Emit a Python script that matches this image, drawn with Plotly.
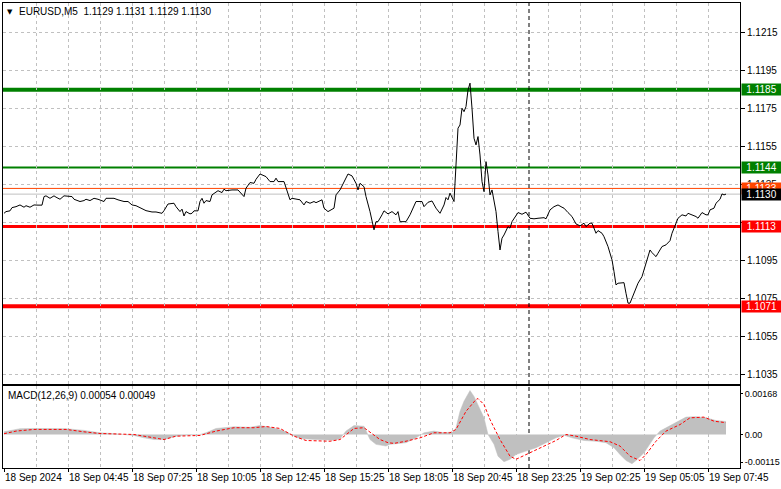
import plotly.graph_objects as go

# ---------------- data ----------------
symbol_title = "EURUSD,M5"
ohlc_last = ["1.1129", "1.1131", "1.1129", "1.1130"]

price_bar = [0, 1, 3, 4, 6, 8, 10, 11, 13, 15, 17, 19, 20, 21, 23, 25, 26, 28, 30, 32, 34, 35, 38, 40, 41, 43, 45, 47, 50, 51,
             55, 57, 60, 62, 64, 66, 69, 71, 74, 76, 79, 80, 82, 85, 86, 88, 89, 90, 91, 93, 94, 95, 97, 98, 99, 100, 101, 103, 104, 106,
             107, 109, 110, 111, 114, 117, 120, 121, 123, 125, 126, 128, 130, 131, 133, 135, 136, 137, 140, 141, 143, 144, 146, 148, 150, 151, 153, 155, 156, 159,
             160, 162, 165, 166, 168, 170, 172, 174, 176, 177, 178, 180, 181, 183, 185, 186, 187, 189, 190, 192, 194, 196, 197, 198, 200, 201, 203, 205, 206, 209,
             210, 212, 214, 216, 218, 220, 221, 222, 223, 225, 226, 227, 228, 229, 230, 231, 232, 233, 234, 235, 236, 237, 238, 239, 240, 241, 242, 243, 244, 245,
             246, 247, 248, 249, 250, 252, 253, 254, 256, 257, 259, 261, 263, 265, 267, 270, 271, 273, 275, 277, 279, 280, 282, 284, 286, 288, 290, 291, 293, 294,
             296, 297, 299, 300, 302, 304, 305, 306, 307, 310, 311, 312, 313, 314, 316, 317, 319, 321, 322, 323, 324, 326, 327, 329, 331, 333, 334, 336, 337, 339,
             341, 342, 344, 346, 347, 349, 351, 352, 353, 355, 356, 358, 359, 360, 361]
price_close = [1.11199, 1.11208, 1.11212, 1.11229, 1.11234, 1.11243, 1.11231, 1.11239, 1.11231, 1.11243, 1.11242, 1.11242, 1.11287, 1.11291, 1.11278, 1.11291, 1.11284, 1.11273, 1.11291, 1.11287, 1.11287, 1.11273, 1.11261, 1.11266, 1.11273, 1.11266, 1.11278, 1.11273, 1.11261, 1.11278,
               1.11278, 1.11270, 1.11261, 1.11261, 1.11243, 1.11239, 1.11221, 1.11213, 1.11206, 1.11206, 1.11199, 1.11213, 1.11248, 1.11252, 1.11234, 1.11208, 1.11221, 1.11185, 1.11208, 1.11196, 1.11199, 1.11212, 1.11212, 1.11261, 1.11278, 1.11252, 1.11266, 1.11261, 1.11296, 1.11313,
               1.11318, 1.11308, 1.11326, 1.11318, 1.11322, 1.11322, 1.11287, 1.11331, 1.11361, 1.11357, 1.11378, 1.11406, 1.11396, 1.11392, 1.11366, 1.11366, 1.11384, 1.11366, 1.11366, 1.11331, 1.11270, 1.11278, 1.11273, 1.11270, 1.11243, 1.11261, 1.11252, 1.11261, 1.11255, 1.11270,
               1.11226, 1.11208, 1.11226, 1.11296, 1.11322, 1.11366, 1.11406, 1.11396, 1.11357, 1.11322, 1.11357, 1.11339, 1.11287, 1.11208, 1.11112, 1.11155, 1.11155, 1.11191, 1.11212, 1.11196, 1.11208, 1.11191, 1.11208, 1.11155, 1.11155, 1.11155, 1.11191, 1.11243, 1.11261, 1.11261,
               1.11234, 1.11257, 1.11264, 1.11226, 1.11199, 1.11243, 1.11282, 1.11270, 1.11305, 1.11261, 1.11454, 1.11647, 1.11664, 1.11752, 1.11734, 1.11761, 1.11848, 1.11884, 1.11752, 1.11594, 1.11559, 1.11603, 1.11506, 1.11366, 1.11313, 1.11471, 1.11401, 1.11296, 1.11322, 1.11252,
               1.11208, 1.11103, 1.11006, 1.11068, 1.11085, 1.11129, 1.11121, 1.11155, 1.11191, 1.11203, 1.11194, 1.11205, 1.11173, 1.11170, 1.11173, 1.11176, 1.11170, 1.11217, 1.11234, 1.11243, 1.11231, 1.11226, 1.11203, 1.11182, 1.11143, 1.11133, 1.11147, 1.11129, 1.11147, 1.11147,
               1.11094, 1.11108, 1.11094, 1.11076, 1.11024, 1.10954, 1.10892, 1.10822, 1.10831, 1.10834, 1.10778, 1.10726, 1.10726, 1.10752, 1.10796, 1.10831, 1.10866, 1.10936, 1.10971, 1.11006, 1.10992, 1.10971, 1.10989, 1.11024, 1.11033, 1.11055, 1.11094, 1.11147, 1.11173, 1.11191,
               1.11185, 1.11199, 1.11191, 1.11182, 1.11173, 1.11203, 1.11191, 1.11191, 1.11217, 1.11226, 1.11252, 1.11273, 1.11301, 1.11296, 1.11300]

macd_bar = [0, 3, 8, 15, 23, 31, 40, 48, 56, 65, 70, 75, 80, 83, 86, 91, 98, 101, 106, 115, 123, 128, 131, 136, 141, 145, 148, 156, 165, 168,
            171, 175, 180, 183, 186, 191, 193, 201, 206, 210, 215, 220, 225, 226, 228, 230, 233, 235, 237, 240, 242, 245, 247, 250, 253, 256, 261, 266, 271, 276,
            280, 284, 290, 296, 301, 305, 308, 311, 314, 316, 320, 325, 328, 331, 336, 341, 346, 351, 356, 361]
macd_hist = [0.00011, 0.00017, 0.00024, 0.00025, 0.00025, 0.00024, 0.00017, 0.00007, 0.00003, -0.00004, -0.00014, -0.00021, -0.00021, -0.00014, -0.00007, -0.00003, 0.0, 0.00007, 0.00025, 0.00032, 0.00030, 0.00037, 0.00033, 0.00025, 0.00011, -0.00007, -0.00017, -0.00021, -0.00024, -0.00018,
             0.00014, 0.00037, 0.00034, -0.00021, -0.00041, -0.00048, -0.00041, -0.00034, -0.00014, 0.00007, 0.00014, 0.00007, 0.00011, 0.00028, 0.00096, 0.00138, 0.00182, 0.00158, 0.00124, 0.00069, 0.0, -0.00041, -0.00090, -0.00113, -0.00103, -0.00083, -0.00069, -0.00055, -0.00034, -0.00014,
             -0.00003, -0.00014, -0.00025, -0.00028, -0.00034, -0.00055, -0.00083, -0.00108, -0.00121, -0.00108, -0.00076, -0.00014, 0.00014, 0.00028, 0.00048, 0.00072, 0.00074, 0.00069, 0.00058, 0.00054]

signal_bar = [0, 6, 15, 31, 40, 48, 65, 73, 80, 86, 98, 106, 115, 125, 131, 138, 145, 151, 163, 168, 175, 180, 183, 188, 192, 195, 201, 208, 215, 223,
              226, 231, 236, 237, 240, 243, 248, 253, 256, 261, 268, 276, 281, 286, 293, 303, 308, 313, 318, 321, 326, 331, 338, 343, 350, 355, 361]
signal_val = [0.00003, 0.00014, 0.00021, 0.00021, 0.00011, 0.00004, 0.0, -0.00011, -0.00021, -0.00007, -0.00004, 0.00014, 0.00028, 0.00028, 0.00033, 0.00025, -0.00007, -0.00025, -0.00028, -0.00021, 0.00025, 0.00028, 0.00011, -0.00021, -0.00034, -0.00037, -0.00028, -0.00014, 0.00007, 0.00007,
              0.00021, 0.00096, 0.00145, 0.00149, 0.00124, 0.00062, -0.00021, -0.00090, -0.00103, -0.00083, -0.00055, -0.00025, 0.0, -0.00007, -0.00021, -0.00030, -0.00048, -0.00090, -0.00108, -0.00083, -0.00028, 0.00014, 0.00041, 0.00069, 0.00072, 0.00055, 0.00049]
macd_title = "MACD(12,26,9) 0.00054 0.00049"

# horizontal levels
level_price = [1.1185, 1.1144, 1.1133, 1.1113, 1.1071]
level_label = ["1.1185", "1.1144", "1.1133", "1.1113", "1.1071"]
level_color = ["#008000", "#008000", "#FF4500", "#FF0000", "#FF0000"]
level_width = [4, 2, 1, 3, 4]
bid_price = 1.1130
bid_label = "1.1130"

day_separator_bar = 262.5

x_label_bar = [0, 32, 64, 96, 128, 160, 192, 224, 256, 288, 320, 352]
x_label_text = ["18 Sep 2024", "18 Sep 04:45", "18 Sep 07:25", "18 Sep 10:05", "18 Sep 12:45", "18 Sep 15:25",
                "18 Sep 18:05", "18 Sep 20:45", "18 Sep 23:25", "19 Sep 02:25", "19 Sep 05:05", "19 Sep 07:45"]
grid_bar = [16, 32, 48, 64, 80, 96, 112, 128, 144, 160, 176, 192, 208, 224, 240, 256, 272, 288, 304, 320, 336, 352, 368]

price_ticks = [1.1035, 1.1055, 1.1075, 1.1095, 1.1115, 1.1135, 1.1155, 1.1175, 1.1195, 1.1215]
# 1.1115 is hidden behind the 1.1113 level tag in the original
price_tick_text = ["1.1035", "1.1055", "1.1075", "1.1095", "", "1.1135", "1.1155", "1.1175", "1.1195", "1.1215"]
macd_ticks = [0.00168, 0.0, -0.00115]
macd_tick_text = ["0.00168", "0.00", "-0.00115"]

# ---------------- figure ----------------
FONT = "Liberation Sans, Arial, sans-serif"
FS = 10
GRID = "#C0C0C0"
DASH = "3px,3px"

fig = go.Figure()

fig.add_trace(go.Scatter(x=price_bar, y=price_close, mode="lines",
                         line=dict(color="black", width=1), xaxis="x", yaxis="y", hoverinfo="skip"))
fig.add_trace(go.Scatter(x=macd_bar, y=macd_hist, mode="lines", fill="tozeroy",
                         fillcolor="#C0C0C0", line=dict(color="#C0C0C0", width=0.5),
                         xaxis="x2", yaxis="y2", hoverinfo="skip"))
fig.add_trace(go.Scatter(x=signal_bar, y=signal_val, mode="lines",
                         line=dict(color="#FF0000", width=1, dash="3px,2px"),
                         xaxis="x2", yaxis="y2", hoverinfo="skip"))

shapes = []
shapes.append(dict(type="line", xref="x domain", x0=0, x1=1, yref="y", y0=bid_price, y1=bid_price,
                   line=dict(color="#C0C0C0", width=1), layer="below"))
for p, c, w in zip(level_price, level_color, level_width):
    shapes.append(dict(type="line", xref="x domain", x0=0, x1=1, yref="y", y0=p, y1=p,
                       line=dict(color=c, width=w), layer="below"))
shapes.append(dict(type="line", xref="x", x0=day_separator_bar, x1=day_separator_bar, yref="paper", y0=0, y1=1,
                   line=dict(color="black", width=1, dash="4px,3px"), layer="below"))

def box(y, text, color):
    return dict(xref="paper", x=1, xanchor="left", xshift=1, yref="y", y=y, yanchor="middle",
                text=text, showarrow=False, bgcolor=color, width=39, height=11,
                borderpad=0, align="center", font=dict(family=FONT, size=FS, color="white"))

annotations = [box(level_price[i], level_label[i], level_color[i]) for i in [0, 1, 2]]
annotations.append(box(bid_price, bid_label, "black"))
annotations += [box(level_price[i], level_label[i], level_color[i]) for i in [3, 4]]
annotations.append(dict(xref="paper", yref="paper", x=0, y=1, xanchor="left", yanchor="top", xshift=2, yshift=-3,
                        text="▼", showarrow=False, font=dict(family="DejaVu Sans", size=7, color="black")))
annotations.append(dict(xref="paper", yref="paper", x=0, y=1, xanchor="left", yanchor="top", xshift=14, yshift=-1,
                        text=symbol_title + "  " + " ".join(ohlc_last), showarrow=False,
                        font=dict(family=FONT, size=FS, color="black")))
annotations.append(dict(xref="paper", yref="y2 domain", x=0, y=1, xanchor="left", yanchor="top", xshift=3, yshift=-2,
                        text=macd_title, showarrow=False, font=dict(family=FONT, size=FS, color="black")))

x_range = [-0.5, 368]
main_dom = [0.1796, 1.0]
macd_dom = [0.0, 0.1753]

fig.update_layout(
    width=781, height=489,
    margin=dict(l=3, r=41, t=3, b=21, autoexpand=False),
    paper_bgcolor="white", plot_bgcolor="white",
    showlegend=False,
    font=dict(family=FONT, size=FS, color="black"),
    shapes=shapes, annotations=annotations,
    xaxis=dict(domain=[0, 1], anchor="y", range=x_range, showticklabels=False,
               tickmode="array", tickvals=grid_bar, ticks="",
               showgrid=True, gridcolor=GRID, griddash=DASH, gridwidth=1,
               showline=True, linecolor="black", linewidth=1, mirror=True, zeroline=False),
    yaxis=dict(domain=main_dom, anchor="x", side="right", range=[1.10298, 1.12306],
               tickmode="array", tickvals=price_ticks, ticktext=price_tick_text,
               ticks="outside", ticklen=4, tickcolor="black",
               showgrid=True, gridcolor=GRID, griddash=DASH, gridwidth=1,
               showline=True, linecolor="black", linewidth=1, mirror=True, zeroline=False,
               tickfont=dict(family=FONT, size=FS, color="black")),
    xaxis2=dict(domain=[0, 1], anchor="y2", range=x_range,
                tickmode="array", tickvals=x_label_bar, ticktext=x_label_text, tickangle=0,
                ticklabelposition="outside right", ticks="outside", ticklen=3, tickcolor="black",
                showgrid=False,
                showline=True, linecolor="black", linewidth=1, mirror=True, zeroline=False,
                tickfont=dict(family=FONT, size=FS, color="black")),
    xaxis3=dict(domain=[0, 1], anchor="y2", range=x_range, overlaying="x2",
                tickmode="array", tickvals=grid_bar, showticklabels=False, ticks="",
                showgrid=True, gridcolor=GRID, griddash=DASH, gridwidth=1, zeroline=False),
    yaxis2=dict(domain=macd_dom, anchor="x2", side="right", range=[-0.00139, 0.00199],
                tickmode="array", tickvals=macd_ticks, ticktext=macd_tick_text,
                ticks="outside", ticklen=2, tickcolor="black", showgrid=False,
                showline=True, linecolor="black", linewidth=1, mirror=True, zeroline=False,
                tickfont=dict(family=FONT, size=9, color="black")),
)
fig.add_trace(go.Scatter(x=[x_range[0]], y=[0], mode="markers", marker=dict(opacity=0),
                         xaxis="x3", yaxis="y2", hoverinfo="skip"))

fig.write_html("out.html", config={"displayModeBar": False},
               post_script="document.body.style.margin='0px';document.body.style.overflow='hidden';")
